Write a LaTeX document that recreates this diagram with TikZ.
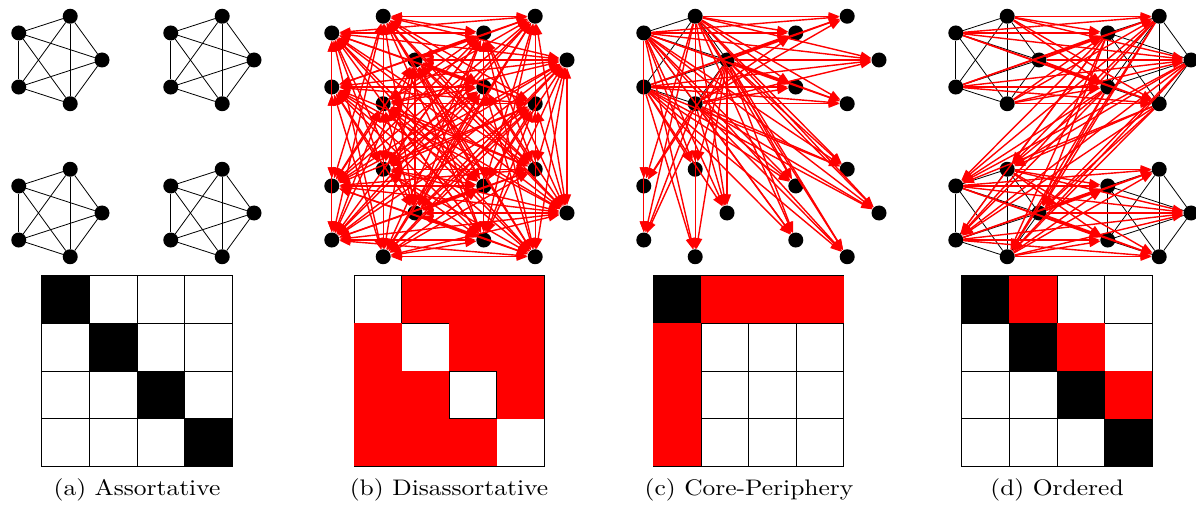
\documentclass[tikz,border=0pt]{standalone}
\usetikzlibrary{arrows.meta}
\tikzset{
  vtx/.style={circle, fill=black, inner sep=0pt, minimum size=15pt},
  inedge/.style={black, line width=0.8pt},
  redge/.style={red, line width=1.4pt, -{Triangle[length=11pt,width=8pt]}},
  bredge/.style={red, line width=1.4pt, {Triangle[length=11pt,width=8pt]}-{Triangle[length=11pt,width=8pt]}},
  cell/.style={draw=black, fill=white, line width=0.8pt},
  captext/.style={anchor=base, inner sep=0pt},
}
\newcommand{\capfont}[1]{\scalebox{2.55}[2.25]{\fontsize{10}{12}\selectfont #1}}
\begin{document}
\begin{tikzpicture}[x=1pt, y=-1pt]
\useasboundingbox (0,0) rectangle (1196,505);
% ---------- vertices ----------
\foreach \p/\off in {0/0, 1/313, 2/625, 3/937} {
  \foreach \g in {0,...,3} {
    \pgfmathsetmacro\cx{56+\off+152*mod(\g,2)}
    \pgfmathsetmacro\cy{60+153*int(\g/2)}
    \foreach \k in {0,...,4} {
      \node[vtx] (n\p x\g x\k) at ({\cx+46*cos(72*\k)},{\cy-46*sin(72*\k)}) {};
    }
  }
}
% ---------- black within-group edges ----------
\foreach \p/\g in {0/0,0/1,0/2,0/3,2/0,3/0,3/1,3/2,3/3} {
  \foreach \i in {0,...,3} {
    \pgfmathtruncatemacro\js{\i+1}
    \foreach \j in {\js,...,4} {
      \draw[inedge] (n\p x\g x\i) -- (n\p x\g x\j);
    }
  }
}
% ---------- (b) disassortative ----------
\foreach \g/\h in {0/1,0/2,0/3,1/2,1/3,2/3} {
  \foreach \i in {0,...,4} {
    \foreach \j in {0,...,4} {
      \draw[bredge] (n1x\g x\i) -- (n1x\h x\j);
    }
  }
}
% ---------- (c) core-periphery ----------
\foreach \h in {1,2,3} {
  \foreach \i in {0,...,4} {
    \foreach \j in {0,...,4} {
      \draw[redge] (n2x0x\i) -- (n2x\h x\j);
    }
  }
}
% ---------- (d) ordered ----------
\foreach \g/\h in {0/1,1/2,2/3} {
  \foreach \i in {0,...,4} {
    \foreach \j in {0,...,4} {
      \draw[redge] (n3x\g x\i) -- (n3x\h x\j);
    }
  }
}
% ---------- block matrices ----------
\def\cs{47.6}
\def\mt{275.7}
\foreach \mx in {41.7, 354, 653.3, 961.7} {
  \foreach \r in {0,...,3} {
    \foreach \c in {0,...,3} {
      \draw[cell] ({\mx+\cs*\c},{\mt+\cs*\r}) rectangle ++(\cs,\cs);
    }
  }
}
% black cells
\foreach \mx/\r/\c in {41.7/0/0, 41.7/1/1, 41.7/2/2, 41.7/3/3,
                      653.3/0/0,
                      961.7/0/0, 961.7/1/1, 961.7/2/2, 961.7/3/3} {
  \fill[black] ({\mx+\cs*\c},{\mt+\cs*\r}) rectangle ++(\cs,\cs);
}
% red cells
\foreach \mx/\r/\c in {354/0/1, 354/0/2, 354/0/3, 354/1/0, 354/1/2, 354/1/3,
                      354/2/0, 354/2/1, 354/2/3, 354/3/0, 354/3/1, 354/3/2,
                      653.3/0/1, 653.3/0/2, 653.3/0/3, 653.3/1/0, 653.3/2/0, 653.3/3/0,
                      961.7/0/1, 961.7/1/2, 961.7/2/3} {
  \fill[red] ({\mx+\cs*\c},{\mt+\cs*\r}) rectangle ++(\cs,\cs);
}
% ---------- captions ----------
\node[captext] (capa) at (137,495) {\capfont{(a) Assortative}};
\node[captext] (capb) at (449,495) {\capfont{(b) Disassortative}};
\node[captext] (capc) at (749,495) {\capfont{(c) Core-Periphery}};
\node[captext] (capd) at (1057,495) {\capfont{(d) Ordered}};
\end{tikzpicture}
\end{document}
